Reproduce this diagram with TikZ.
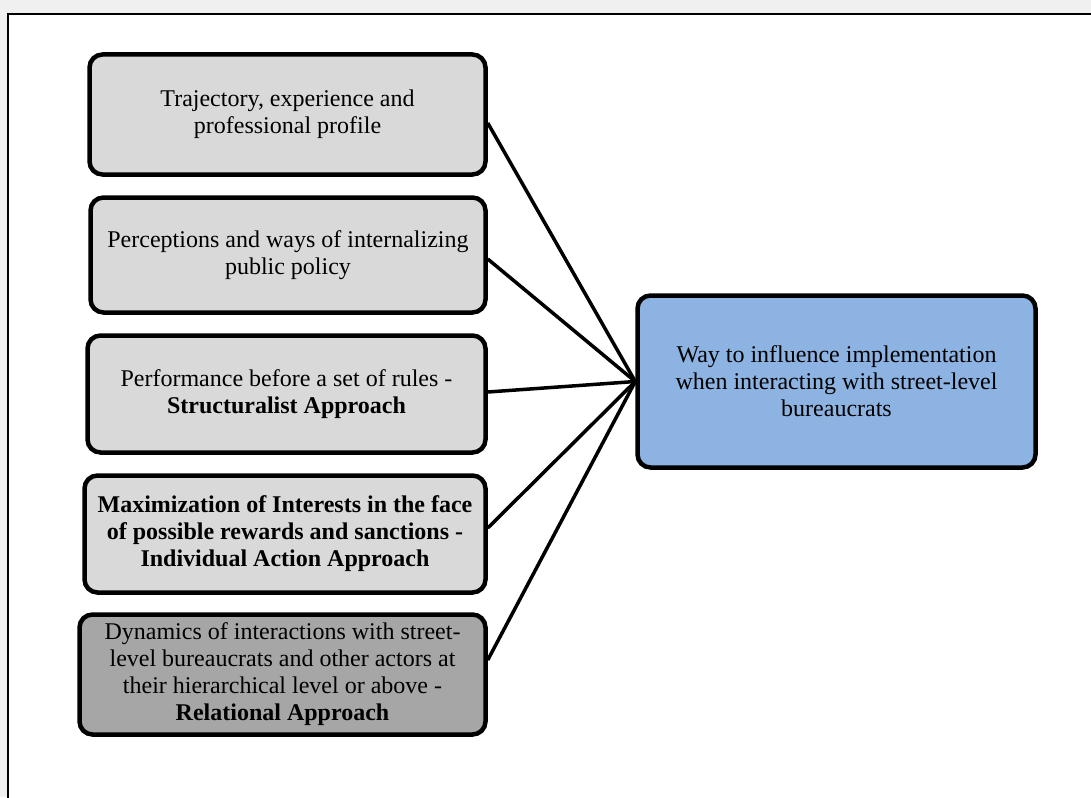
\documentclass[tikz,border=0pt]{standalone}
\usepackage{fontspec}
\setmainfont{Liberation Serif}
\begin{document}
\begin{tikzpicture}[x=1pt,y=-1pt,
  box/.style={draw=black, line width=4.5pt, rounded corners=13pt, align=center,
    inner sep=3pt, font=\fontsize{24}{27}\selectfont},
  lightbox/.style={box, fill=lightgraybox},
  darkbox/.style={box, fill=darkgraybox},
  bluebox/.style={box, fill=bluefill},
  conn/.style={draw=black, line width=3.5pt}]
\definecolor{lightgraybox}{HTML}{D9D9D9}
\definecolor{darkgraybox}{HTML}{A6A6A6}
\definecolor{bluefill}{HTML}{8DB3E2}
\definecolor{pagegray}{HTML}{F0F0F0}
\useasboundingbox (0,0) rectangle (1091,797);
\fill[pagegray] (0,0) rectangle (1091,797);
\draw[fill=white, line width=2pt] (8,14) rectangle (1110,820);

\node[lightbox, minimum width=396pt, minimum height=120pt] (b1) at (287.5,114.5)
  {Trajectory, experience and\\professional profile};
\node[lightbox, minimum width=395pt, minimum height=115pt] (b2) at (288,255)
  {Perceptions and ways of internalizing\\public policy};
\node[lightbox, minimum width=398pt, minimum height=117pt] (b3) at (286.5,394)
  {Performance before a set of rules -\\\textbf{Structuralist Approach}};
\node[lightbox, minimum width=401pt, minimum height=117pt] (b4) at (285,534)
  {\textbf{Maximization of Interests in the face}\\\textbf{of possible rewards and sanctions -}\\\textbf{Individual Action Approach}};
\node[darkbox, minimum width=406pt, minimum height=120pt] (b5) at (282.5,674.5)
  {Dynamics of interactions with street-\\level bureaucrats and other actors at\\their hierarchical level or above -\\\textbf{Relational Approach}};
\node[bluebox, minimum width=398pt, minimum height=172pt] (r) at (836.5,381.5)
  {Way to influence implementation\\when interacting with street-level\\bureaucrats};

\draw[conn] ([yshift=-8.5pt]b1.east) -- (r.west);
\draw[conn] ([yshift=-4pt]b2.east) -- (r.west);
\draw[conn] ([yshift=2pt]b3.east) -- (r.west);
\draw[conn] ([yshift=6pt]b4.east) -- (r.west);
\draw[conn] ([yshift=14.5pt]b5.east) -- (r.west);
\end{tikzpicture}
\end{document}
